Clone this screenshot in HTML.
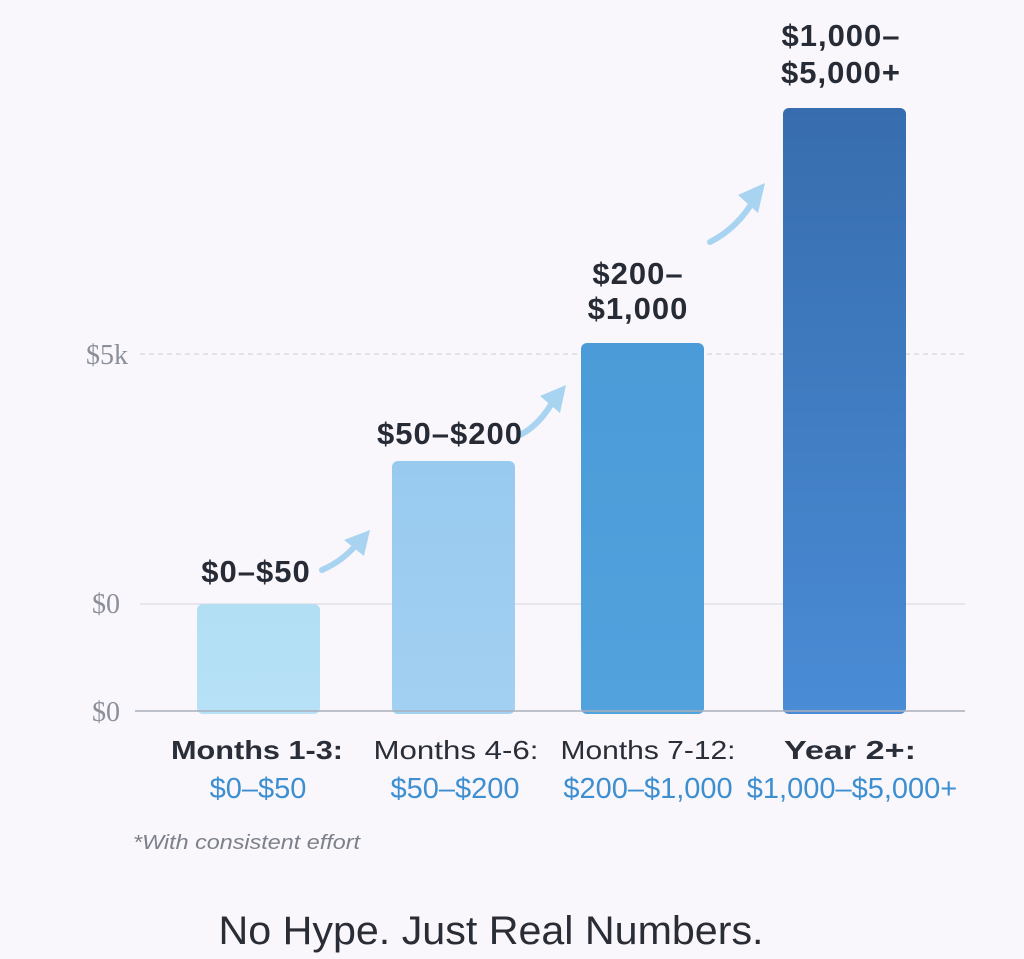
<!DOCTYPE html>
<html><head><style>
body{margin:0;background:#f9f7fb;}
svg{display:block;}
</style></head><body>
<svg width="1024" height="959" viewBox="0 0 1024 959" xmlns="http://www.w3.org/2000/svg">
<defs>
<linearGradient id="g1" x1="0" y1="0" x2="0" y2="1"><stop offset="0" stop-color="#b2dff4"/><stop offset="1" stop-color="#b6e1f6"/></linearGradient>
<linearGradient id="g2" x1="0" y1="0" x2="0" y2="1"><stop offset="0" stop-color="#98caef"/><stop offset="1" stop-color="#a2d0f2"/></linearGradient>
<linearGradient id="g3" x1="0" y1="0" x2="0" y2="1"><stop offset="0" stop-color="#4b9bd8"/><stop offset="1" stop-color="#52a2de"/></linearGradient>
<linearGradient id="g4" x1="0" y1="0" x2="0" y2="1"><stop offset="0" stop-color="#376dae"/><stop offset="1" stop-color="#4a8cd6"/></linearGradient>
</defs>
<rect width="1024" height="959" fill="#f9f7fb"/>
<line x1="140" y1="354" x2="965" y2="354" stroke="#d6d6dc" stroke-width="1.2" stroke-dasharray="5,4"/>
<line x1="140" y1="604" x2="965" y2="604" stroke="#dcdce2" stroke-width="1.2"/>
<g font-family="Liberation Serif, serif" font-size="28" fill="#8a8f9a" text-anchor="end">
<text x="128" y="364">$5k</text>
<text x="120" y="613">$0</text>
<text x="120" y="721">$0</text>
</g>
<rect x="197" y="604" width="123" height="110" rx="6" fill="url(#g1)"/>
<rect x="392" y="461" width="123" height="253" rx="6" fill="url(#g2)"/>
<rect x="581" y="343" width="123" height="371" rx="6" fill="url(#g3)"/>
<rect x="783" y="108" width="123" height="606" rx="6" fill="url(#g4)"/>
<line x1="135" y1="711" x2="965" y2="711" stroke="#a9afbb" stroke-width="1.5"/>
<g fill="none" stroke="#a9d4f1" stroke-width="6" stroke-linecap="round">
<path d="M322 570 Q345 560 360 540"/>
<path d="M520 435 Q540 425 555 398"/>
<path d="M710 242 Q738 228 755 198"/>
</g>
<g fill="#a9d4f1">
<polygon points="370,530 344,540 364,556"/>
<polygon points="566,385 540,396 560,413"/>
<polygon points="765,183 738,195 758,213"/>
</g>
<g font-family="Liberation Sans, sans-serif" font-weight="bold" font-size="31" fill="#262b36" text-anchor="middle" letter-spacing="1">
<text x="256" y="582">$0–$50</text>
<text x="450" y="444">$50–$200</text>
<text x="638" y="284">$200–</text>
<text x="638" y="319">$1,000</text>
<text x="841" y="46">$1,000–</text>
<text x="841" y="83">$5,000+</text>
</g>
<g font-family="Liberation Sans, sans-serif" font-size="26" fill="#2a2e38" text-anchor="middle">
<text x="257" y="759" font-weight="bold" textLength="172" lengthAdjust="spacingAndGlyphs">Months 1-3:</text>
<text x="456" y="759" textLength="165" lengthAdjust="spacingAndGlyphs">Months 4-6:</text>
<text x="648" y="759" textLength="175" lengthAdjust="spacingAndGlyphs">Months 7-12:</text>
<text x="850" y="759" font-weight="bold" textLength="132" lengthAdjust="spacingAndGlyphs">Year 2+:</text>
</g>
<g font-family="Liberation Sans, sans-serif" font-size="29" fill="#3d8fd1" text-anchor="middle">
<text x="258" y="798">$0–$50</text>
<text x="455" y="798">$50–$200</text>
<text x="648" y="798">$200–$1,000</text>
<text x="852" y="798">$1,000–$5,000+</text>
</g>
<text x="133" y="849" font-family="Liberation Sans, sans-serif" font-style="italic" font-size="20" fill="#7c808a" textLength="227" lengthAdjust="spacingAndGlyphs">*With consistent effort</text>
<text x="491" y="944" font-family="Liberation Sans, sans-serif" font-size="40" fill="#2a2d36" text-anchor="middle" textLength="545" lengthAdjust="spacingAndGlyphs">No Hype. Just Real Numbers.</text>
</svg>
</body></html>
